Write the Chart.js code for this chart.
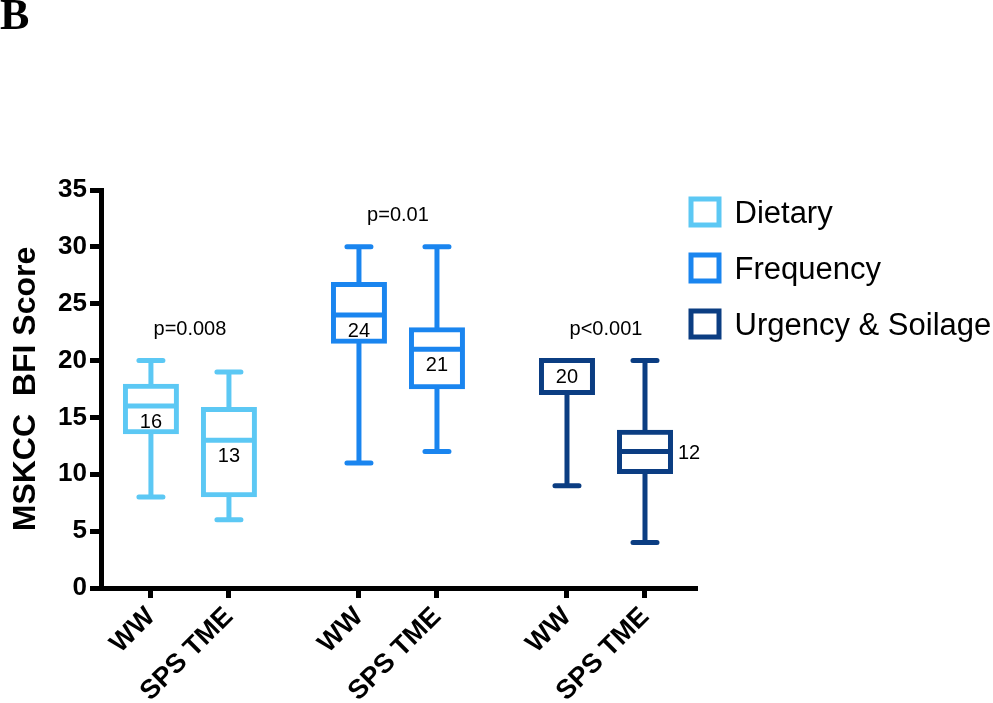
<!DOCTYPE html>
<html>
<head>
<meta charset="utf-8">
<script src="https://cdn.jsdelivr.net/npm/chart.js@4.4.0/dist/chart.umd.min.js"></script>
<style>
  html, body { margin: 0; padding: 0; background: #fff; }
  canvas { display: block; }
</style>
</head>
<body>
<canvas id="bfiChart" width="993" height="703"></canvas>
<script>
// MSKCC BFI subscales, WW vs SPS TME
const groups = ['Dietary', 'Frequency', 'Urgency & Soilage'];
const arms = ['WW', 'SPS TME'];
const pValues = ['p=0.008', 'p=0.01', 'p<0.001'];

// one entry per box: Dietary WW, Dietary SPS TME, Frequency WW, Frequency SPS TME, Urgency WW, Urgency SPS TME
const lowWhisker  = [8, 6, 11, 12, 9, 4];
const quart1      = [13.75, 8.2, 21.7, 17.7, 17.2, 10.25];
const medians     = [16, 13, 24, 21, 20, 12];
const quart3      = [17.75, 15.7, 26.7, 22.7, 20, 13.7];
const highWhisker = [20, 19, 30, 30, 20, 20];

const groupColors = ['#5cc8f4', '#1a85ef', '#0b3d82'];
const GROUP_GAP = 8 / 3;   // distance between groups, in box widths
function slotX(g, a) { return g * GROUP_GAP + a; }

Chart.defaults.font.family = 'Liberation Sans';
Chart.defaults.color = '#000';

var datasets = groups.map(function (name, g) {
  return {
    label: name,
    data: arms.map(function (arm, a) {
      var k = g * 2 + a;
      return { x: slotX(g, a), y: [quart1[k], quart3[k]] };
    }),
    backgroundColor: '#ffffff',
    borderColor: groupColors[g],
    borderWidth: 5,
    borderSkipped: false,
    inflateAmount: 2.5,
    maxBarThickness: 51,
    barPercentage: 1,
    categoryPercentage: 1,
    grouped: false
  };
});

// whiskers, medians, labels and the legend
var boxExtras = {
  id: 'boxExtras',
  beforeDatasetsDraw: function (chart) {
    var ctx = chart.ctx, y = chart.scales.y;
    ctx.save();
    ctx.lineWidth = 5;
    chart.data.datasets.forEach(function (ds, g) {
      chart.getDatasetMeta(g).data.forEach(function (bar, a) {
        var k = g * 2 + a;
        var yLo = y.getPixelForValue(lowWhisker[k]);
        var yHi = y.getPixelForValue(highWhisker[k]);
        ctx.strokeStyle = ds.borderColor;
        ctx.lineCap = 'butt';
        ctx.beginPath();
        ctx.moveTo(bar.x, yLo);
        ctx.lineTo(bar.x, yHi);
        ctx.stroke();
        ctx.lineCap = 'round';
        ctx.beginPath();
        ctx.moveTo(bar.x - 12, yLo); ctx.lineTo(bar.x + 12, yLo);
        ctx.moveTo(bar.x - 12, yHi); ctx.lineTo(bar.x + 12, yHi);
        ctx.stroke();
      });
    });
    ctx.restore();
  },
  afterDatasetsDraw: function (chart) {
    var ctx = chart.ctx, y = chart.scales.y;
    ctx.save();
    chart.data.datasets.forEach(function (ds, g) {
      var bars = chart.getDatasetMeta(g).data;
      bars.forEach(function (bar, a) {
        var k = g * 2 + a;
        var yMed = y.getPixelForValue(medians[k]);
        ctx.strokeStyle = ds.borderColor;
        ctx.lineWidth = 5;
        ctx.lineCap = 'butt';
        ctx.beginPath();
        ctx.moveTo(bar.x - bar.width / 2, yMed);
        ctx.lineTo(bar.x + bar.width / 2, yMed);
        ctx.stroke();

        ctx.fillStyle = '#000';
        ctx.font = '20px "Liberation Sans"';
        ctx.textBaseline = 'alphabetic';
        var room = y.getPixelForValue(quart1[k]) - yMed;
        if (room < 22) {
          ctx.textAlign = 'left';
          ctx.fillText(String(medians[k]), bar.x + 33, yMed + 7.2);
        } else {
          ctx.textAlign = 'center';
          ctx.fillText(String(medians[k]), bar.x, yMed + 15 + 7.2);
        }
      });
      // p value above the pair
      var top = Math.max(highWhisker[g * 2], highWhisker[g * 2 + 1]);
      ctx.font = '20px "Liberation Sans"';
      ctx.textAlign = 'center';
      ctx.fillStyle = '#000';
      ctx.fillText(pValues[g], (bars[0].x + bars[1].x) / 2, y.getPixelForValue(top) - 33 + 7.2);
    });
    ctx.restore();
  },
  afterDraw: function (chart) {
    var ctx = chart.ctx, area = chart.chartArea;
    ctx.save();
    chart.data.datasets.forEach(function (ds, g) {
      var cy = area.top + 22 + 56 * g;
      ctx.fillStyle = '#fff';
      ctx.fillRect(area.right - 6, cy - 13, 28, 26);
      ctx.strokeStyle = ds.borderColor;
      ctx.lineWidth = 5;
      ctx.strokeRect(area.right - 6, cy - 13, 28, 26);
      ctx.fillStyle = '#000';
      ctx.font = '31px "Liberation Sans"';
      ctx.textAlign = 'left';
      ctx.textBaseline = 'alphabetic';
      ctx.fillText(ds.label, area.right + 37.5, cy + 11);
    });
    ctx.restore();
  }
};

var ctx = document.getElementById('bfiChart').getContext('2d');
var chart = new Chart(ctx, {
  type: 'bar',
  data: { datasets: datasets },
  options: {
    responsive: false,
    animation: false,
    devicePixelRatio: 1,
    layout: { padding: { left: 0, right: 296, top: 0, bottom: 0 } },
    plugins: {
      legend: { display: false },
      tooltip: { enabled: false },
      title: {
        display: true,
        text: 'B',
        align: 'start',
        color: '#000',
        font: { family: 'Liberation Serif', size: 44, weight: 'bold', lineHeight: 0.8 },
        padding: { top: 0, bottom: 154.8 }
      }
    },
    scales: {
      x: {
        type: 'linear',
        offset: false,
        min: -0.64,
        max: 7,
        afterBuildTicks: function (s) {
          s.ticks = [];
          groups.forEach(function (name, g) {
            arms.forEach(function (arm, a) { s.ticks.push({ value: slotX(g, a) }); });
          });
        },
        afterFit: function (s) { s.height = 115; },
        ticks: {
          autoSkip: false,
          minRotation: 45,
          maxRotation: 45,
          padding: 3,
          color: '#000',
          font: { size: 27, weight: 'bold' },
          callback: function (v, i) { return arms[i % 2]; }
        },
        grid: { display: true, offset: false, drawOnChartArea: false, drawTicks: true, tickLength: 10, tickWidth: 5, tickColor: '#000' },
        border: { display: true, color: '#000', width: 5 }
      },
      y: {
        min: 0,
        max: 35,
        afterFit: function (s) { s.width = 101; },
        ticks: { stepSize: 5, padding: 3, color: '#000', font: { size: 26, weight: 'bold' } },
        grid: { display: true, drawOnChartArea: false, drawTicks: true, tickLength: 11, tickWidth: 5, tickColor: '#000' },
        border: { display: true, color: '#000', width: 5 },
        title: {
          display: true,
          text: 'MSKCC  BFI Score',
          color: '#000',
          font: { size: 32, weight: 'bold' },
          padding: { top: 7, bottom: 0 }
        }
      }
    }
  },
  plugins: [boxExtras]
});
</script>
</body>
</html>
